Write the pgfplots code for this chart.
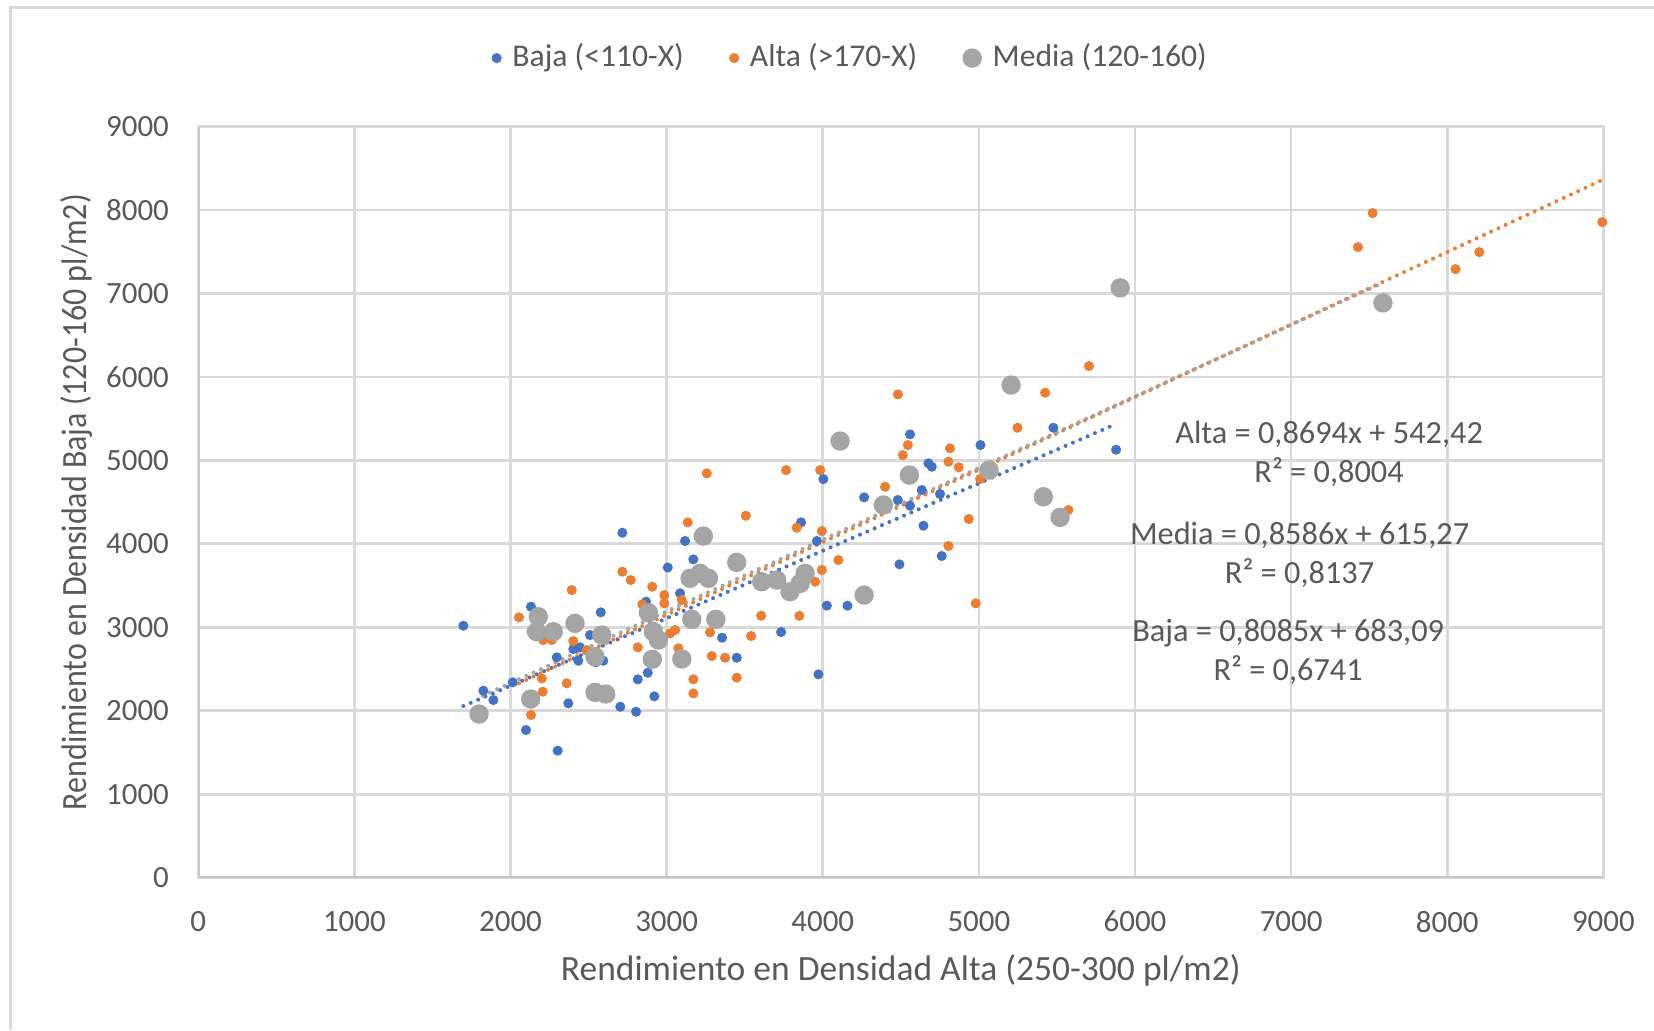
\documentclass[border=0pt]{standalone}
\usepackage{fontspec}
\setmainfont{Carlito}
\usepackage{graphicx}
\usepackage{pgfplots}
\usepackage{pgfplotstable}
\pgfplotsset{compat=1.18}

\definecolor{baja}{HTML}{4472C4}
\definecolor{alta}{HTML}{ED7D31}
\definecolor{media}{HTML}{A5A5A5}
\definecolor{txt}{HTML}{595959}
\definecolor{gridc}{HTML}{D9D9D9}
\definecolor{axc}{HTML}{C6C6C6}

% Rendimiento: x = densidad alta, y = densidad baja
\pgfplotstableread{
x y
1698 3019
1826 2240
1890 2128
2014 2340
2099 1769
2131 3246
2135 2947
2296 2640
2302 1521
2370 2089
2402 2739
2445 2760
2434 2599
2509 2907
2578 3179
2594 2599
2545 2580
2703 2048
2716 4133
2804 1988
2815 2376
2868 3306
2879 2455
2921 2172
3007 3716
3086 3407
3118 4034
3171 3814
3355 2875
3449 2635
3733 2943
3861 4258
3962 4034
3972 2436
4004 4776
4026 3259
4158 3259
4265 4557
4481 4525
4491 3754
4559 5312
4559 4457
4634 4645
4645 4217
4677 4965
4698 4924
4751 4597
4762 3854
5010 5184
5477 5391
5879 5128
}\bajatab

\pgfplotstableread{
x y
2054 3119
2131 1949
2200 2388
2206 2228
2210 2847
2264 2847
2360 2328
2392 3446
2402 2835
2488 2727
2716 3666
2770 3566
2815 2760
2844 3275
2908 3486
2985 3386
2985 3287
3022 2927
3054 2967
3075 2748
3097 3327
3135 4257
3171 2376
3171 2208
3257 4845
3278 2939
3289 2655
3374 2635
3449 2396
3507 4337
3541 2895
3605 3138
3765 4884
3833 4193
3850 3138
3951 3546
3983 4884
3994 4153
3994 3686
4100 3806
4399 4684
4481 5791
4513 5064
4545 5184
4805 4984
4815 5144
4871 4917
4935 4297
4805 3974
4980 3287
5008 4776
5247 5391
5424 5811
5573 4405
5705 6130
7428 7556
7522 7964
8053 7292
8205 7496
8993 7856
}\altatab

\pgfplotstableread{
x y
1798 1960
2129 2140
2178 3126
2168 2947
2274 2947
2413 3047
2584 2907
2541 2647
2541 2220
2610 2200
2883 3174
2915 2947
2947 2847
2908 2616
3097 2620
3161 3095
3150 3587
3214 3646
3268 3587
3235 4093
3315 3095
3449 3778
3609 3546
3705 3566
3790 3426
3855 3526
3887 3646
4111 5232
4265 3386
4388 4465
4555 4824
5065 4884
5206 5903
5413 4564
5520 4317
5905 7068
7588 6888
}\mediatab

\begin{document}
\begin{tikzpicture}
\useasboundingbox (0,0) rectangle (165.4mm,103mm);
% chart area frame (left and top edges)
\draw[gridc, line width=0.3mm] (1.05mm,0mm) -- (1.05mm,102.2mm) -- (165.4mm,102.2mm);
\begin{axis}[
  at={(19.83mm,15.24mm)}, anchor=south west,
  scale only axis, width=140.51mm, height=75.1mm,
  xmin=0, xmax=9000, ymin=0, ymax=9000,
  xtick distance=1000, ytick distance=1000,
  scaled ticks=false,
  /pgf/number format/1000 sep={},
  /pgf/number format/assume math mode=true,
  tick style={draw=none},
  grid=major,
  major grid style={gridc, line width=0.27mm},
  axis line style={gridc, line width=0.27mm},
  ticklabel style={font=\fontsize{8.8}{10}\selectfont, text=txt},
  xticklabel style={yshift=-2.1mm},
  yticklabel style={xshift=-1.7mm},
  xlabel={Rendimiento en Densidad Alta (250-300 pl/m2)},
  ylabel={\scalebox{0.9}[1]{Rendimiento en Densidad Baja (120-160 pl/m2)}},
  label style={font=\fontsize{10.1}{12}\selectfont, text=txt},
  xlabel style={at={(axis description cs:0.5,-0.1236)}, anchor=center},
  ylabel style={at={(axis description cs:-0.0868,0.5)}, anchor=center},
  legend style={at={(axis description cs:0.466,1.0913)}, anchor=center,
    draw=none, fill=none, font=\fontsize{9}{10}\selectfont, text=txt,
    /tikz/every odd column/.append style={column sep=0.45mm},
    /tikz/every even column/.append style={column sep=3.9mm}},
  legend columns=3,
  legend cell align=left,
  legend image code/.code={\draw[#1] plot coordinates {(0mm,0mm)};},
]
% value axes, slightly darker than the grid
\draw[axc, line width=0.27mm] (rel axis cs:0,1) -- (rel axis cs:0,0) -- (rel axis cs:1,0);

\addplot[only marks, mark=*, color=baja, mark size=0.43mm] table {\bajatab};
\addlegendentry{Baja (<110-X)}
\addplot[only marks, mark=*, color=alta, mark size=0.43mm] table {\altatab};
\addlegendentry{Alta (>170-X)}
\addplot[only marks, mark=*, color=media, mark size=0.9mm] table {\mediatab};
\addlegendentry{Media (120-160)}

% linear trend lines over each series' range
\addplot[forget plot, baja, line width=0.4mm, line cap=round, dash pattern=on 0pt off 0.8mm] coordinates {(1698,2055.9) (5879,5436.3)};
\addplot[forget plot, alta, line width=0.4mm, line cap=round, dash pattern=on 0pt off 0.8mm] coordinates {(2054,2328.2) (9000,8367.0)};
\addplot[forget plot, media, line width=0.4mm, line cap=round, dash pattern=on 0pt off 0.8mm, dash phase=0.4mm] coordinates {(1798,2159.0) (7588,7130.3)};

\node[font=\fontsize{9.2}{11.1}\selectfont, text=txt, align=center] at (axis cs:7243,5075) {Alta = 0,8694x + 542,42\\R² = 0,8004};
\node[font=\fontsize{9.2}{11.1}\selectfont, text=txt, align=center] at (axis cs:7054,3874) {Media = 0,8586x + 615,27\\R² = 0,8137};
\node[font=\fontsize{9.2}{11.1}\selectfont, text=txt, align=center] at (axis cs:6981,2704) {Baja = 0,8085x + 683,09\\R² = 0,6741};
\end{axis}
\end{tikzpicture}
\end{document}
